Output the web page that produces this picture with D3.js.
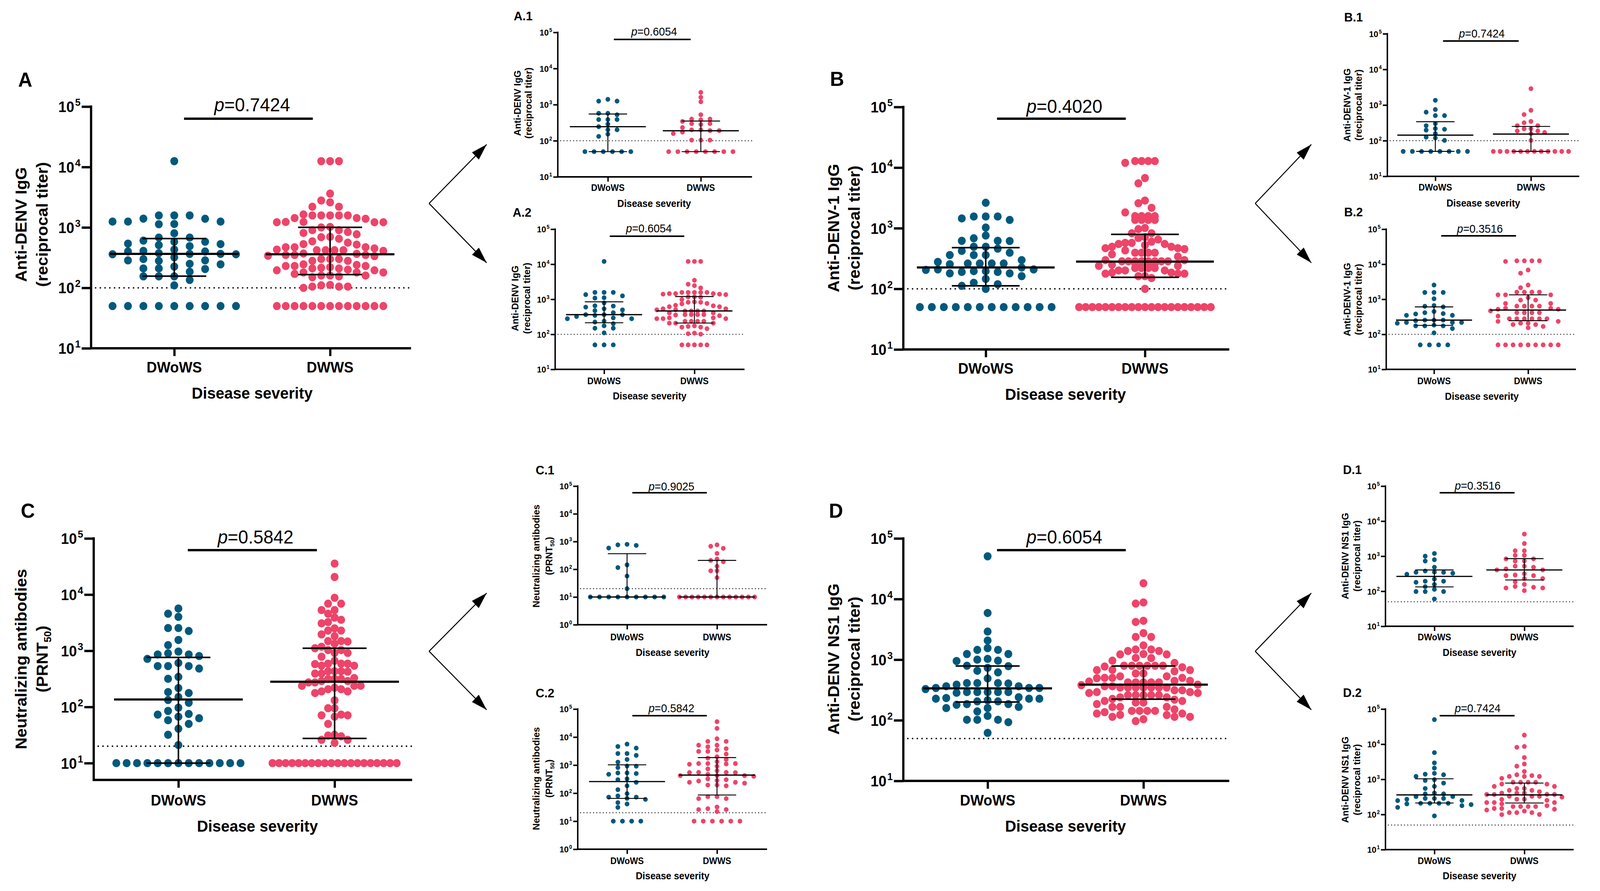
<!DOCTYPE html>
<html>
<head>
<meta charset="utf-8">
<script src="https://cdn.jsdelivr.net/npm/d3@7"></script>
<style>
html, body { margin: 0; padding: 0; background: #fff; overflow: hidden; }
svg { display: block; width: 100vw; height: 100vh; }
text { font-family: "Liberation Sans", Arial, sans-serif; fill: #000; }
</style>
</head>
<body>
<svg id="fig" viewBox="0 0 4251 2282" preserveAspectRatio="none"></svg>
<script>
// ---- data ----
const categories = ['DWoWS', 'DWWS']
const decades = [1, 2, 3, 4, 5]
const decadesPRNT = [0, 1, 2, 3, 4, 5]
const panelNames = ['A', 'A.1', 'A.2', 'B', 'B.1', 'B.2', 'C', 'C.1', 'C.2', 'D', 'D.1', 'D.2']
const pValues = [0.7424, 0.6054, 0.6054, 0.4020, 0.7424, 0.3516, 0.5842, 0.9025, 0.5842, 0.6054, 0.3516, 0.7424]
const thresholds = [100, 100, 100, 100, 100, 100, 20, 20, 20, 50, 50, 50]

const titleA = ['Anti-DENV IgG', '(reciprocal titer)']
const titleB = ['Anti-DENV-1 IgG', '(reciprocal titer)']
const titleC = ['Neutralizing antibodies', '(PRNT50)']
const titleD = ['Anti-DENV NS1 IgG', '(reciprocal titer)']

// [median, q1, q3] per group
const aStats = [[365, 156, 655], [360, 166, 1005]]
const a1Stats = [[245, 50, 550], [189, 50, 352]]
const a2Stats = [[364, 214, 845], [465, 210, 1197]]
const bStats = [[225, 112, 478], [281, 155, 791]]
const b1Stats = [[143, 50, 341], [153, 50, 251]]
const b2Stats = [[254, 180, 606], [492, 245, 1340]]
const cStats = [[136, 10, 762], [281, 27.5, 1110]]
const c1Stats = [[10, 10, 365], [10, 10, 209]]
const c2Stats = [[259, 65, 1025], [441, 86, 1860]]
const dStats = [[336, 200, 785], [387, 223, 785]]
const d1Stats = [[265, 133, 405], [405, 210, 851]]
const d2Stats = [[360, 212, 1035], [360, 212, 782]]

const aWithout = [12500, 1580, 1580, 1580, 1390, 1400, 1250, 1250, 1250, 1130, 1140, 800, 680, 680, 605, 580, 580, 540, 530, 510, 490, 430, 400, 400, 410, 375, 360, 360, 365, 365, 320, 300, 285, 280, 285, 250, 245, 225, 210, 210, 205, 185, 155, 155, 155, 135, 110,
  50, 50, 50, 50, 50, 50, 50, 50, 50]
const aWith = [12500, 12500, 12500, 3630, 2600, 2790, 2200, 2200, 1580, 1580, 1640, 1580, 1580, 1430, 1430, 1580, 1390, 1230, 1220, 1220, 1220, 1230, 1020, 1000, 900, 900, 810, 840, 770, 690, 700, 650, 590, 560, 530, 520, 470, 470, 470, 450, 420, 410, 420, 420, 430, 420, 365, 370, 350, 340, 350, 335, 350, 300, 300, 300, 280, 280, 245, 240, 230, 230, 220, 230, 215, 195, 210, 210, 195, 200, 180, 180, 180, 170, 160, 155, 160, 160, 150, 110, 112, 105, 105, 105, 100,
  50, 50, 50, 50, 50, 50, 50, 50, 50, 50, 50, 50, 50]

const a1Without = [1400, 1250, 1250, 575, 575, 525, 386, 386, 386, 288, 245, 202, 202, 152, 132, 50, 50, 50, 50, 50, 50]
const a1With = [2180, 1600, 1200, 524, 343, 398, 398, 380, 282, 298, 298, 232, 191, 200, 191, 200, 174, 158, 104, 104, 104, 50, 50, 50, 50, 50, 50, 50, 50]

const a2Without = [12000, 1570, 1570, 1570, 1360, 1250, 1110, 1080, 785, 653, 641, 597, 535, 497, 475, 414, 364, 347, 364, 364, 323, 295, 279, 279, 239, 224, 201, 175, 149, 149, 110, 50, 50, 50]
const a2With = [12000, 12000, 12000, 3480, 2690, 2450, 2110, 1570, 1570, 1570, 1570, 1570, 1360, 1450, 1450, 1450, 1400, 1400, 1170, 1170, 1150, 986, 820, 820, 843, 760, 740, 673, 653, 614, 614, 535, 535, 500, 500, 465, 465, 465, 465, 410, 410, 364, 364, 364, 364, 355, 340, 295, 295, 280, 280, 280, 236, 236, 236, 236, 208, 208, 208, 174, 168, 160, 160, 145, 108, 104, 101, 50, 50, 50, 50, 50]

const bWithout = [2630, 1560, 1560, 1560, 1450, 1370, 1025, 756, 682, 620, 620, 615, 494, 494, 460, 423, 394, 361, 361, 361, 298, 278, 262, 262, 262, 262, 255, 225, 209, 209, 205, 196, 196, 190, 190, 180, 180, 162, 146, 126, 119, 112, 100,
  50, 50, 50, 50, 50, 50, 50, 50, 50, 50, 50, 50]
const bWith = [12800, 12800, 12800, 12800, 12000, 6730, 5500, 2860, 2580, 2170, 1820, 1585, 1585, 1585, 1585, 1370, 1370, 1370, 1370, 1010, 966, 826, 826, 713, 690, 653, 599, 573, 573, 550, 525, 550, 494, 494, 468, 468, 452, 430, 394, 394, 394, 394, 371, 340, 298, 298,
  285, 285, 285, 285, 285, 285, 285, 285, 262, 262, 262, 262, 240, 240, 250, 220, 220, 220, 220, 201, 201, 201, 185, 185, 178, 178, 178, 162, 162, 151, 100,
  50, 50, 50, 50, 50, 50, 50, 50, 50, 50, 50, 50, 50, 50, 50, 50, 50, 50, 50, 50, 50]

const b1Without = [1360, 748, 631, 506, 506, 302, 264, 219, 209, 198, 158, 125, 119, 102, 50, 50, 50, 50, 50, 50, 50, 50]
const b1With = [2880, 711, 541, 347, 319, 264, 264, 215, 215, 188, 188, 170, 158, 102, 50, 50, 50, 50, 50, 50, 50, 50, 50, 50, 50, 50]

const b2Without = [2550, 1567, 1567, 1567, 1035, 661, 606, 631, 414, 380, 348, 349, 447, 390, 254, 254, 254, 207, 245, 218, 218, 218, 174, 174, 174, 183, 146, 110, 50, 50, 50, 50]
const b2With = [12500, 12500, 12500, 12500, 12000, 6840, 5550, 2550, 2140, 1600, 1600, 1600, 1600, 1340, 1340, 1340, 1110, 948, 948, 759, 759, 638, 638, 638, 638, 555, 555, 518, 518, 467, 414, 414, 414, 414, 331,
  278, 278, 278, 278, 278, 278, 234, 234, 207, 207, 190, 190, 168, 154, 50, 50, 50, 50, 50, 50, 50, 50, 50]

const cWithout = [5650, 4570, 4020, 2540, 2540, 2250, 1560, 1260, 968, 900, 860, 860, 806, 716, 607, 534, 534, 534, 482, 343, 317, 217, 184, 177, 150, 133, 119, 97, 85, 75, 73, 67, 63, 58, 50, 41, 32, 21,
  10, 10, 10, 10, 10, 10, 10, 10, 10, 10, 10, 10, 10]
const cWith = [35600, 20600, 8770, 6900, 6900, 5300, 5300, 4570, 3900, 3560, 3240, 3080, 2510, 2290, 2290, 1960, 1820, 1490, 1490, 1460, 1340, 1180, 1110, 1030, 1030, 914, 914, 783, 664, 590, 590, 590, 580, 543, 543, 432, 432, 432, 425, 393, 393, 327, 315, 315, 315, 289, 289, 273, 273, 238, 238, 238, 220, 207, 207, 189, 189, 177, 131, 95, 95, 73, 71, 71, 67, 50, 32, 30, 31, 26, 26, 23,
  10, 10, 10, 10, 10, 10, 10, 10, 10, 10, 10, 10, 10, 10, 10, 10, 10, 10, 10, 10]

const c1Without = [794, 724, 760, 582, 144, 115, 57, 20, 10, 10, 10, 10, 10, 10, 10, 10, 10]
const c1With = [760, 676, 570, 374, 234, 209, 187, 129, 88, 88, 50, 10, 10, 10, 10, 10, 10, 10, 10, 10, 10, 10, 10, 10]

const c2Without = [5620, 4610, 4040, 2590, 2590, 2220, 1590, 1280, 914, 930, 818, 525, 525, 501, 471, 324, 302, 243, 182, 133, 96, 80, 72, 72, 65, 60, 46, 41, 31, 10, 10, 10, 10]
const c2With = [35500, 20400, 8730, 7010, 7010, 5140, 5140, 4510, 3860, 3450, 3090, 3090, 2480, 1990, 1780, 1590, 1330, 1140, 1140, 1140, 1100, 1070, 914, 733, 631, 551, 551, 540, 540, 471, 422, 422, 422, 398, 324, 302, 283, 271, 243, 243, 227, 194, 194, 182, 75, 75, 64, 64, 32, 28, 26, 26, 22,
  10, 10, 10, 10, 10, 10]

const dWithout = [50700, 5890, 2910, 2070, 1550, 1450, 1450, 1240, 1240, 1030, 962, 1000, 950, 794, 780, 733, 656, 617, 490, 411, 411, 405, 411, 387, 364, 364, 341, 341, 341, 327, 292, 292, 292, 292, 292, 284, 240, 233, 227, 227, 227, 214, 205, 205, 185, 185, 180, 166, 159, 159, 140, 118, 102, 102, 102, 93, 62]
const dWith = [18200, 8790, 8420, 4380, 4190, 2740, 2370, 2370, 1720, 1470, 1470, 1390, 1390, 1240, 1220, 1220, 1070, 1060, 962, 884, 795, 795, 795, 795, 795, 795, 770, 750, 673, 673, 680, 646, 593, 593, 531, 531, 501, 501, 501, 495, 447, 447, 435, 422, 422, 422, 422, 422, 387, 380, 364, 364,
  347, 347, 347, 347, 347, 347, 347, 313, 313, 292, 292, 282, 282, 260, 260, 260, 260, 260, 239, 239, 219, 225, 208, 208, 196, 196, 185, 166, 166, 166, 151, 143, 143, 143, 143, 136, 129, 129, 123, 122, 114, 114, 114, 104, 97]

const d1Without = [1194, 1000, 794, 727, 484, 378, 346, 346, 352, 327, 305, 222, 193, 193, 180, 156, 135, 113, 98, 98, 98, 60]
const d1With = [4270, 2300, 1430, 1430, 1055, 1055, 838, 838, 727, 727, 519, 519, 484, 434, 405, 405, 316, 279, 279, 290, 230, 230, 186, 156, 137, 130, 124, 124, 104]

const d2Without = [50100, 5750, 2930, 2090, 1480, 1400, 1350, 1210, 980, 930, 782, 630, 549, 407, 385, 385, 323, 323, 286, 286, 286, 271, 248, 250, 208, 208, 208, 208, 200, 191, 178, 159, 91]
const d2With = [18100, 8620, 8170, 4170, 2730, 2370, 1670, 1350, 1280, 1210, 1210, 1210, 1070, 824, 824, 824, 824, 728, 735, 630, 630, 549, 549, 485, 485, 444, 407, 407, 407, 371, 371, 371, 375, 329, 329, 329, 312, 271, 271, 268, 252, 219, 200, 219, 219, 178, 168, 168, 168, 168, 148, 148, 134, 125, 113, 113, 113, 141, 100, 99]

// ---- styles ----
const colors = ['#00597c', '#ee4469']

const bigStyle = {
	r: 10.5, cap: 41, maxW: 330, axisW: 6, tick: 25, xtick: 20,
	tickFont: 38, supFont: 26, catFont: 38, dsFont: 41, titleFont: 42,
	pFont: 48, letterFont: 52, barW: 6, medHalf: 171, capHalf: 85, medW: 5.5, iqrW: 4,
	thrW: 4.2, thrGap: 12.6
}
const smallStyle = {
	r: 6.2, cap: 24.4, maxW: 200, axisW: 3.8, tick: 12, xtick: 12,
	tickFont: 22, supFont: 14, catFont: 23, dsFont: 25, titleFont: 24,
	pFont: 29, letterFont: 32, barW: 4, medHalf: 101, capHalf: 51, medW: 3.2, iqrW: 2.4,
	thrW: 2.6, thrGap: 8.6
}

// panel geometry (pixels)
const panels = [
	{big: true, vals: [aWithout, aWith], stats: aStats, title: titleA, lowExp: 1,
		axisX: 242, yTop: 273, yLow: 892, axisY: 892, xEnd: 1092, cx: [463, 877], titleX: [56, 112], titleY: 575,
		letterX: 67, letterY: 222, pX: 670, pY: 285, barY: 304, bar: [489, 831], catY: 954, dsX: 670, dsY: 1021},
	{big: false, vals: [a1Without, a1With], stats: a1Stats, title: titleA, lowExp: 1,
		axisX: 1482, yTop: 83, yLow: 453, axisY: 453, xEnd: 1998, cx: [1615, 1862], titleX: [1375, 1404], titleY: 264,
		letterX: 1390, letterY: 52, pX: 1738, pY: 91, barY: 101, bar: [1631, 1835], catY: 489, dsX: 1738, dsY: 530},
	{big: false, vals: [a2Without, a2With], stats: a2Stats, title: titleA, lowExp: 1,
		axisX: 1475, yTop: 587, yLow: 946, axisY: 946, xEnd: 1978, cx: [1605, 1845], titleX: [1369, 1400], titleY: 764,
		letterX: 1387, letterY: 555, pX: 1724, pY: 595, barY: 605, bar: [1620, 1818], catY: 984, dsX: 1726, dsY: 1023},
	{big: true, vals: [bWithout, bWith], stats: bStats, title: titleB, lowExp: 1, maxW: 350, medHalf: 183, capHalf: 90,
		axisX: 2400, yTop: 274, yLow: 895, axisY: 895, xEnd: 3266, cx: [2619, 3042], titleX: [2215, 2270], titleY: 584,
		letterX: 2224, letterY: 220, pX: 2828, pY: 289, barY: 304, bar: [2649, 2991], catY: 957, dsX: 2831, dsY: 1024},
	{big: false, vals: [b1Without, b1With], stats: b1Stats, title: titleB, lowExp: 1,
		axisX: 3686, yTop: 86.5, yLow: 451.6, axisY: 451.6, xEnd: 4196, cx: [3813.5, 4067.5], titleX: [3579, 3609], titleY: 269,
		letterX: 3596, letterY: 55, pX: 3937, pY: 96, barY: 105, bar: [3834, 4035], catY: 488, dsX: 3941, dsY: 529},
	{big: false, vals: [b2Without, b2With], stats: b2Stats, title: titleB, lowExp: 1,
		axisX: 3683, yTop: 587, yLow: 946, axisY: 946, xEnd: 4187, cx: [3810, 4060], titleX: [3579, 3609], titleY: 767,
		letterX: 3596, letterY: 554, pX: 3932, pY: 596, barY: 604, bar: [3829, 4028], catY: 984, dsX: 3937, dsY: 1024},
	{big: true, vals: [cWithout, cWith], stats: cStats, title: titleC, lowExp: 1,
		axisX: 249, yTop: 1379, yLow: 1954.5, axisY: 1997.5, xEnd: 1095, cx: [474, 889], titleX: [56, 112], titleY: 1688,
		letterX: 74, letterY: 1326, pX: 679, pY: 1392, barY: 1409, bar: [499, 842], catY: 2063, dsX: 684, dsY: 2130},
	{big: false, vals: [c1Without, c1With], stats: c1Stats, title: titleC, lowExp: 0,
		axisX: 1535, yTop: 1245, yLow: 1600, axisY: 1600, xEnd: 2038, cx: [1666, 1905], titleX: [1425, 1459], titleY: 1424,
		letterX: 1448, letterY: 1215, pX: 1784, pY: 1256, barY: 1262, bar: [1680, 1878], catY: 1640, dsX: 1787, dsY: 1680},
	{big: false, vals: [c2Without, c2With], stats: c2Stats, title: titleC, lowExp: 0,
		axisX: 1535, yTop: 1816, yLow: 2175, axisY: 2175, xEnd: 2038, cx: [1666, 1905], titleX: [1425, 1459], titleY: 1994,
		letterX: 1448, letterY: 1786, pX: 1784, pY: 1824, barY: 1833, bar: [1680, 1878], catY: 2213, dsX: 1787, dsY: 2252},
	{big: true, vals: [dWithout, dWith], stats: dStats, title: titleD, lowExp: 1,
		axisX: 2400, yTop: 1379, yLow: 2000, axisY: 2000, xEnd: 3266, cx: [2624, 3038], titleX: [2215, 2270], titleY: 1688,
		letterX: 2221, letterY: 1326, pX: 2828, pY: 1392, barY: 1409, bar: [2649, 2991], catY: 2063, dsX: 2831, dsY: 2130},
	{big: false, vals: [d1Without, d1With], stats: d1Stats, title: titleD, lowExp: 1,
		axisX: 3681, yTop: 1245, yLow: 1604, axisY: 1604, xEnd: 4181, cx: [3811, 4050], titleX: [3574, 3605], titleY: 1424,
		letterX: 3593, letterY: 1214, pX: 3926, pY: 1254, barY: 1262, bar: [3825, 4024], catY: 1640, dsX: 3931, dsY: 1680},
	{big: false, vals: [d2Without, d2With], stats: d2Stats, title: titleD, lowExp: 1,
		axisX: 3681, yTop: 1816, yLow: 2176, axisY: 2176, xEnd: 4181, cx: [3811, 4050], titleX: [3574, 3605], titleY: 1997,
		letterX: 3593, letterY: 1785, pX: 3926, pY: 1824, barY: 1833, bar: [3825, 4024], catY: 2213, dsX: 3931, dsY: 2252}
]

// arrows: [vertex, upper tip, lower tip]
const arrows = [
	[[1140, 521], [1293, 370], [1293, 673]],
	[[3335, 521], [3484, 370], [3484, 673]],
	[[1140, 1668], [1293, 1519], [1293, 1818]],
	[[3335, 1668], [3484, 1519], [3484, 1818]]
]

const svg = d3.select('#fig')
svg.append('rect').attr('width', 4251).attr('height', 2282).attr('fill', '#fff')

svg.append('defs').append('marker')
	.attr('id', 'head')
	.attr('viewBox', '-44 -16 46 32')
	.attr('refX', 0).attr('refY', 0)
	.attr('markerWidth', 46).attr('markerHeight', 32)
	.attr('markerUnits', 'userSpaceOnUse')
	.attr('orient', 'auto')
	.append('path')
	.attr('d', 'M0,0 L-42,-13 L-42,13 Z')
	.attr('fill', '#000')

// GraphPad-like scatter: ties of 4+ become centred rows, the rest take the nearest free column
function swarm(vals, y, r) {
	let counts = d3.rollup(vals, v => v.length, d => d)
	let placed = []
	let lim = 2 * r * 0.9
	counts.forEach(function(n, v) {
		if (n >= 4) {
			for (let i = 0; i < n; i++) placed.push({v: v, py: y(v), slot: i - (n - 1) / 2})
		}
	})
	let rest = vals.filter(v => counts.get(v) < 4).sort((a, b) => b - a)
	rest.forEach(function(v) {
		let py = y(v)
		for (let k = 0; k < 200; k++) {
			let slot = k === 0 ? 0 : (k % 2 ? -Math.ceil(k / 2) : k / 2)
			let hit = placed.some(p => Math.abs(p.slot - slot) < 0.9 && Math.abs(p.py - py) < lim)
			if (!hit) {
				placed.push({v: v, py: py, slot: slot})
				break
			}
		}
	})
	return placed
}

function rotatedTitle(g, P, S) {
	P.title.forEach(function(line, i) {
		let t = g.append('text')
			.attr('transform', 'translate(' + P.titleX[i] + ',' + P.titleY + ') rotate(-90)')
			.attr('text-anchor', 'middle')
			.attr('dy', '0.35em')
			.attr('font-size', S.titleFont)
			.attr('font-weight', 'bold')
		if (line.indexOf('PRNT50') >= 0) {
			t.append('tspan').text('(PRNT')
			t.append('tspan').text('50').attr('font-size', S.titleFont * 0.62).attr('dy', S.titleFont * 0.22)
			t.append('tspan').text(')').attr('dy', -S.titleFont * 0.22)
		} else {
			t.text(line)
		}
	})
}

function drawPanel(P, i) {
	let S = Object.assign({}, P.big ? bigStyle : smallStyle)
	if (P.maxW) S.maxW = P.maxW
	if (P.medHalf) S.medHalf = P.medHalf
	if (P.capHalf) S.capHalf = P.capHalf

	let g = svg.append('g').attr('class', 'panel')
	let y = d3.scaleLog().domain([Math.pow(10, P.lowExp), 1e5]).range([P.yLow, P.yTop])
	let x = d3.scalePoint().domain(categories).range(P.cx)
	let tv = (P.lowExp === 0 ? decadesPRNT : decades).map(e => Math.pow(10, e))

	// detection limit
	let ty = y(thresholds[i])
	g.append('line')
		.attr('x1', P.axisX + S.axisW * 2).attr('x2', P.xEnd)
		.attr('y1', ty).attr('y2', ty)
		.attr('stroke', '#000')
		.attr('stroke-width', S.thrW)
		.attr('stroke-linecap', 'round')
		.attr('stroke-dasharray', '0 ' + S.thrGap)

	// points
	P.vals.forEach(function(vals, k) {
		let pts = swarm(vals, y, S.r)
		let maxSlot = d3.max(pts, p => Math.abs(p.slot)) || 1
		let s = Math.min(S.cap, S.maxW / 2 / maxSlot)
		let c = x(categories[k])
		g.append('g').selectAll('circle')
			.data(pts)
			.join('circle')
			.attr('cx', p => c + p.slot * s)
			.attr('cy', p => p.py)
			.attr('r', S.r)
			.attr('fill', colors[k])
	})

	// median with interquartile range
	P.stats.forEach(function(st, k) {
		let c = x(categories[k])
		let med = st[0], q1 = st[1], q3 = st[2]
		if (q3 > q1) {
			g.append('line').attr('x1', c).attr('x2', c).attr('y1', y(q1)).attr('y2', y(q3))
				.attr('stroke', '#000').attr('stroke-width', S.iqrW)
			;[q1, q3].forEach(function(q) {
				g.append('line').attr('x1', c - S.capHalf).attr('x2', c + S.capHalf).attr('y1', y(q)).attr('y2', y(q))
					.attr('stroke', '#000').attr('stroke-width', S.iqrW)
			})
		}
		g.append('line').attr('x1', c - S.medHalf).attr('x2', c + S.medHalf).attr('y1', y(med)).attr('y2', y(med))
			.attr('stroke', '#000').attr('stroke-width', S.medW)
	})

	// y axis
	let yg = g.append('g')
		.attr('transform', 'translate(' + P.axisX + ',0)')
		.call(d3.axisLeft(y).tickValues(tv).tickSize(S.tick).tickFormat(''))
	yg.select('.domain').remove()
	yg.selectAll('.tick line').attr('stroke', '#000').attr('stroke-width', S.axisW)
	yg.selectAll('.tick text').remove()
	yg.selectAll('.tick').each(function(d) {
		let t = d3.select(this).append('text')
			.attr('x', -S.tick - 3)
			.attr('dy', '0.36em')
			.attr('text-anchor', 'end')
			.attr('font-size', S.tickFont)
			.attr('font-weight', 'bold')
			.attr('fill', '#000')
			.attr('font-family', '"Liberation Sans", Arial, sans-serif')
		t.append('tspan').text('10')
		t.append('tspan').text(Math.round(Math.log10(d)))
			.attr('font-size', S.supFont)
			.attr('dx', S.tickFont * 0.06)
			.attr('dy', -S.tickFont * 0.42)
	})

	// x axis
	let xg = g.append('g')
		.attr('transform', 'translate(0,' + P.axisY + ')')
		.call(d3.axisBottom(x).tickSize(S.xtick).tickFormat(''))
	xg.select('.domain').remove()
	xg.selectAll('.tick line').attr('stroke', '#000').attr('stroke-width', S.axisW)
	xg.selectAll('.tick text').remove()

	g.append('path')
		.attr('d', 'M' + P.axisX + ',' + (P.yTop - S.axisW / 2) + 'V' + P.axisY + 'H' + P.xEnd)
		.attr('fill', 'none')
		.attr('stroke', '#000')
		.attr('stroke-width', S.axisW)
		.attr('stroke-linejoin', 'miter')

	g.selectAll('.cat')
		.data(categories)
		.join('text')
		.attr('class', 'cat')
		.attr('x', d => x(d))
		.attr('y', P.catY)
		.attr('text-anchor', 'middle')
		.attr('font-size', S.catFont)
		.attr('font-weight', 'bold')
		.text(d => d)

	g.append('text')
		.attr('x', P.dsX).attr('y', P.dsY)
		.attr('text-anchor', 'middle')
		.attr('font-size', S.dsFont)
		.attr('font-weight', 'bold')
		.text('Disease severity')

	rotatedTitle(g, P, S)

	// comparison bar and p value
	g.append('line')
		.attr('x1', P.bar[0]).attr('x2', P.bar[1])
		.attr('y1', P.barY).attr('y2', P.barY)
		.attr('stroke', '#000').attr('stroke-width', S.barW)
	let pt = g.append('text')
		.attr('x', P.pX).attr('y', P.pY)
		.attr('text-anchor', 'middle')
		.attr('font-size', S.pFont)
	pt.append('tspan').attr('font-style', 'italic').text('p')
	pt.append('tspan').text('=' + d3.format('.4f')(pValues[i]))

	g.append('text')
		.attr('x', P.letterX).attr('y', P.letterY)
		.attr('text-anchor', 'middle')
		.attr('font-size', S.letterFont)
		.attr('font-weight', 'bold')
		.text(panelNames[i])
}

panels.forEach(drawPanel)

arrows.forEach(function(a) {
	[a[1], a[2]].forEach(function(tip) {
		svg.append('line')
			.attr('x1', a[0][0]).attr('y1', a[0][1])
			.attr('x2', tip[0]).attr('y2', tip[1])
			.attr('stroke', '#000')
			.attr('stroke-width', 2.5)
			.attr('marker-end', 'url(#head)')
	})
})
</script>
</body>
</html>
